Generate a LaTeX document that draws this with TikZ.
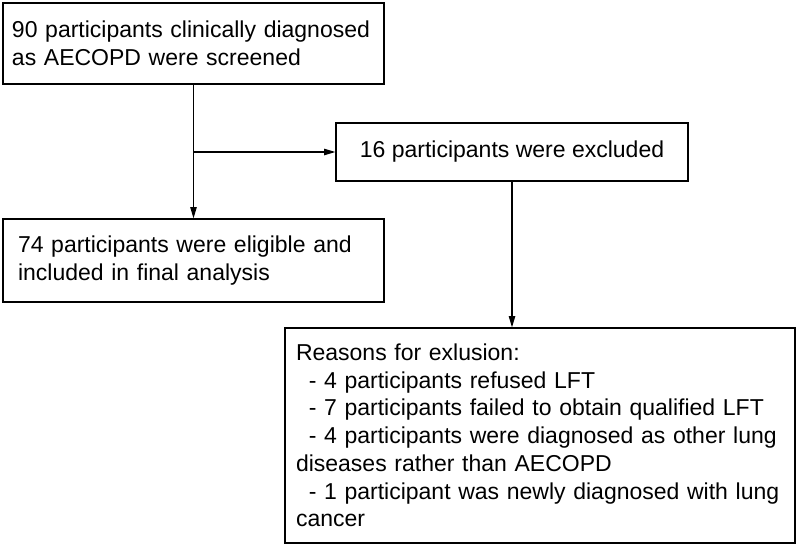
\documentclass[tikz,border=0pt]{standalone}
\usepackage{fontspec}
\setmainfont{Liberation Sans}
\usetikzlibrary{arrows.meta}
\tikzset{
  box/.style={draw=black, line width=0.9pt, rectangle, inner ysep=2pt,
    font=\fontsize{17.25pt}{20.8pt}\selectfont},
  conn/.style={draw=black, line width=0.9pt},
  arr/.style={conn, -{Triangle[length=8.5pt,width=4.8pt]}}
}
\begin{document}
\begin{tikzpicture}[x=0.75pt,y=-0.75pt]
\useasboundingbox (0,0) rectangle (799,547);
\node[box, minimum width=285.75pt, minimum height=60.75pt, inner xsep=6.75pt,
      text width=272.25pt, align=left] (b1) at (193.5,43.5)
  {90 participants clinically diagnosed\\as AECOPD were screened};
\node[box, minimum width=264pt, minimum height=43.5pt, align=center] (b16) at (512,152)
  {16 participants were excluded};
\node[box, minimum width=285.75pt, minimum height=62.25pt, inner xsep=11.25pt,
      text width=263.25pt, align=left] (b74) at (193.5,260.5)
  {74 participants were eligible and\\included in final analysis};
\node[box, minimum width=382.5pt, minimum height=161.25pt, inner xsep=8.25pt,
      text width=366pt, align=left] (rb) at (540,435.5)
  {Reasons for exlusion:\\
   \hspace*{0.556em}- 4 participants refused LFT\\
   \hspace*{0.556em}- 7 participants failed to obtain qualified LFT\\
   \hspace*{0.556em}- 4 participants were diagnosed as other lung\\
   diseases rather than AECOPD\\
   \hspace*{0.556em}- 1 participant was newly diagnosed with lung\\
   cancer};
\coordinate (j) at (b1.south |- b16.west);
\draw[arr] (b1.south) -- (b74.north);
\draw[arr] (j) -- (b16.west);
\draw[arr] (b16.south) -- (b16.south |- rb.north);
\end{tikzpicture}
\end{document}
